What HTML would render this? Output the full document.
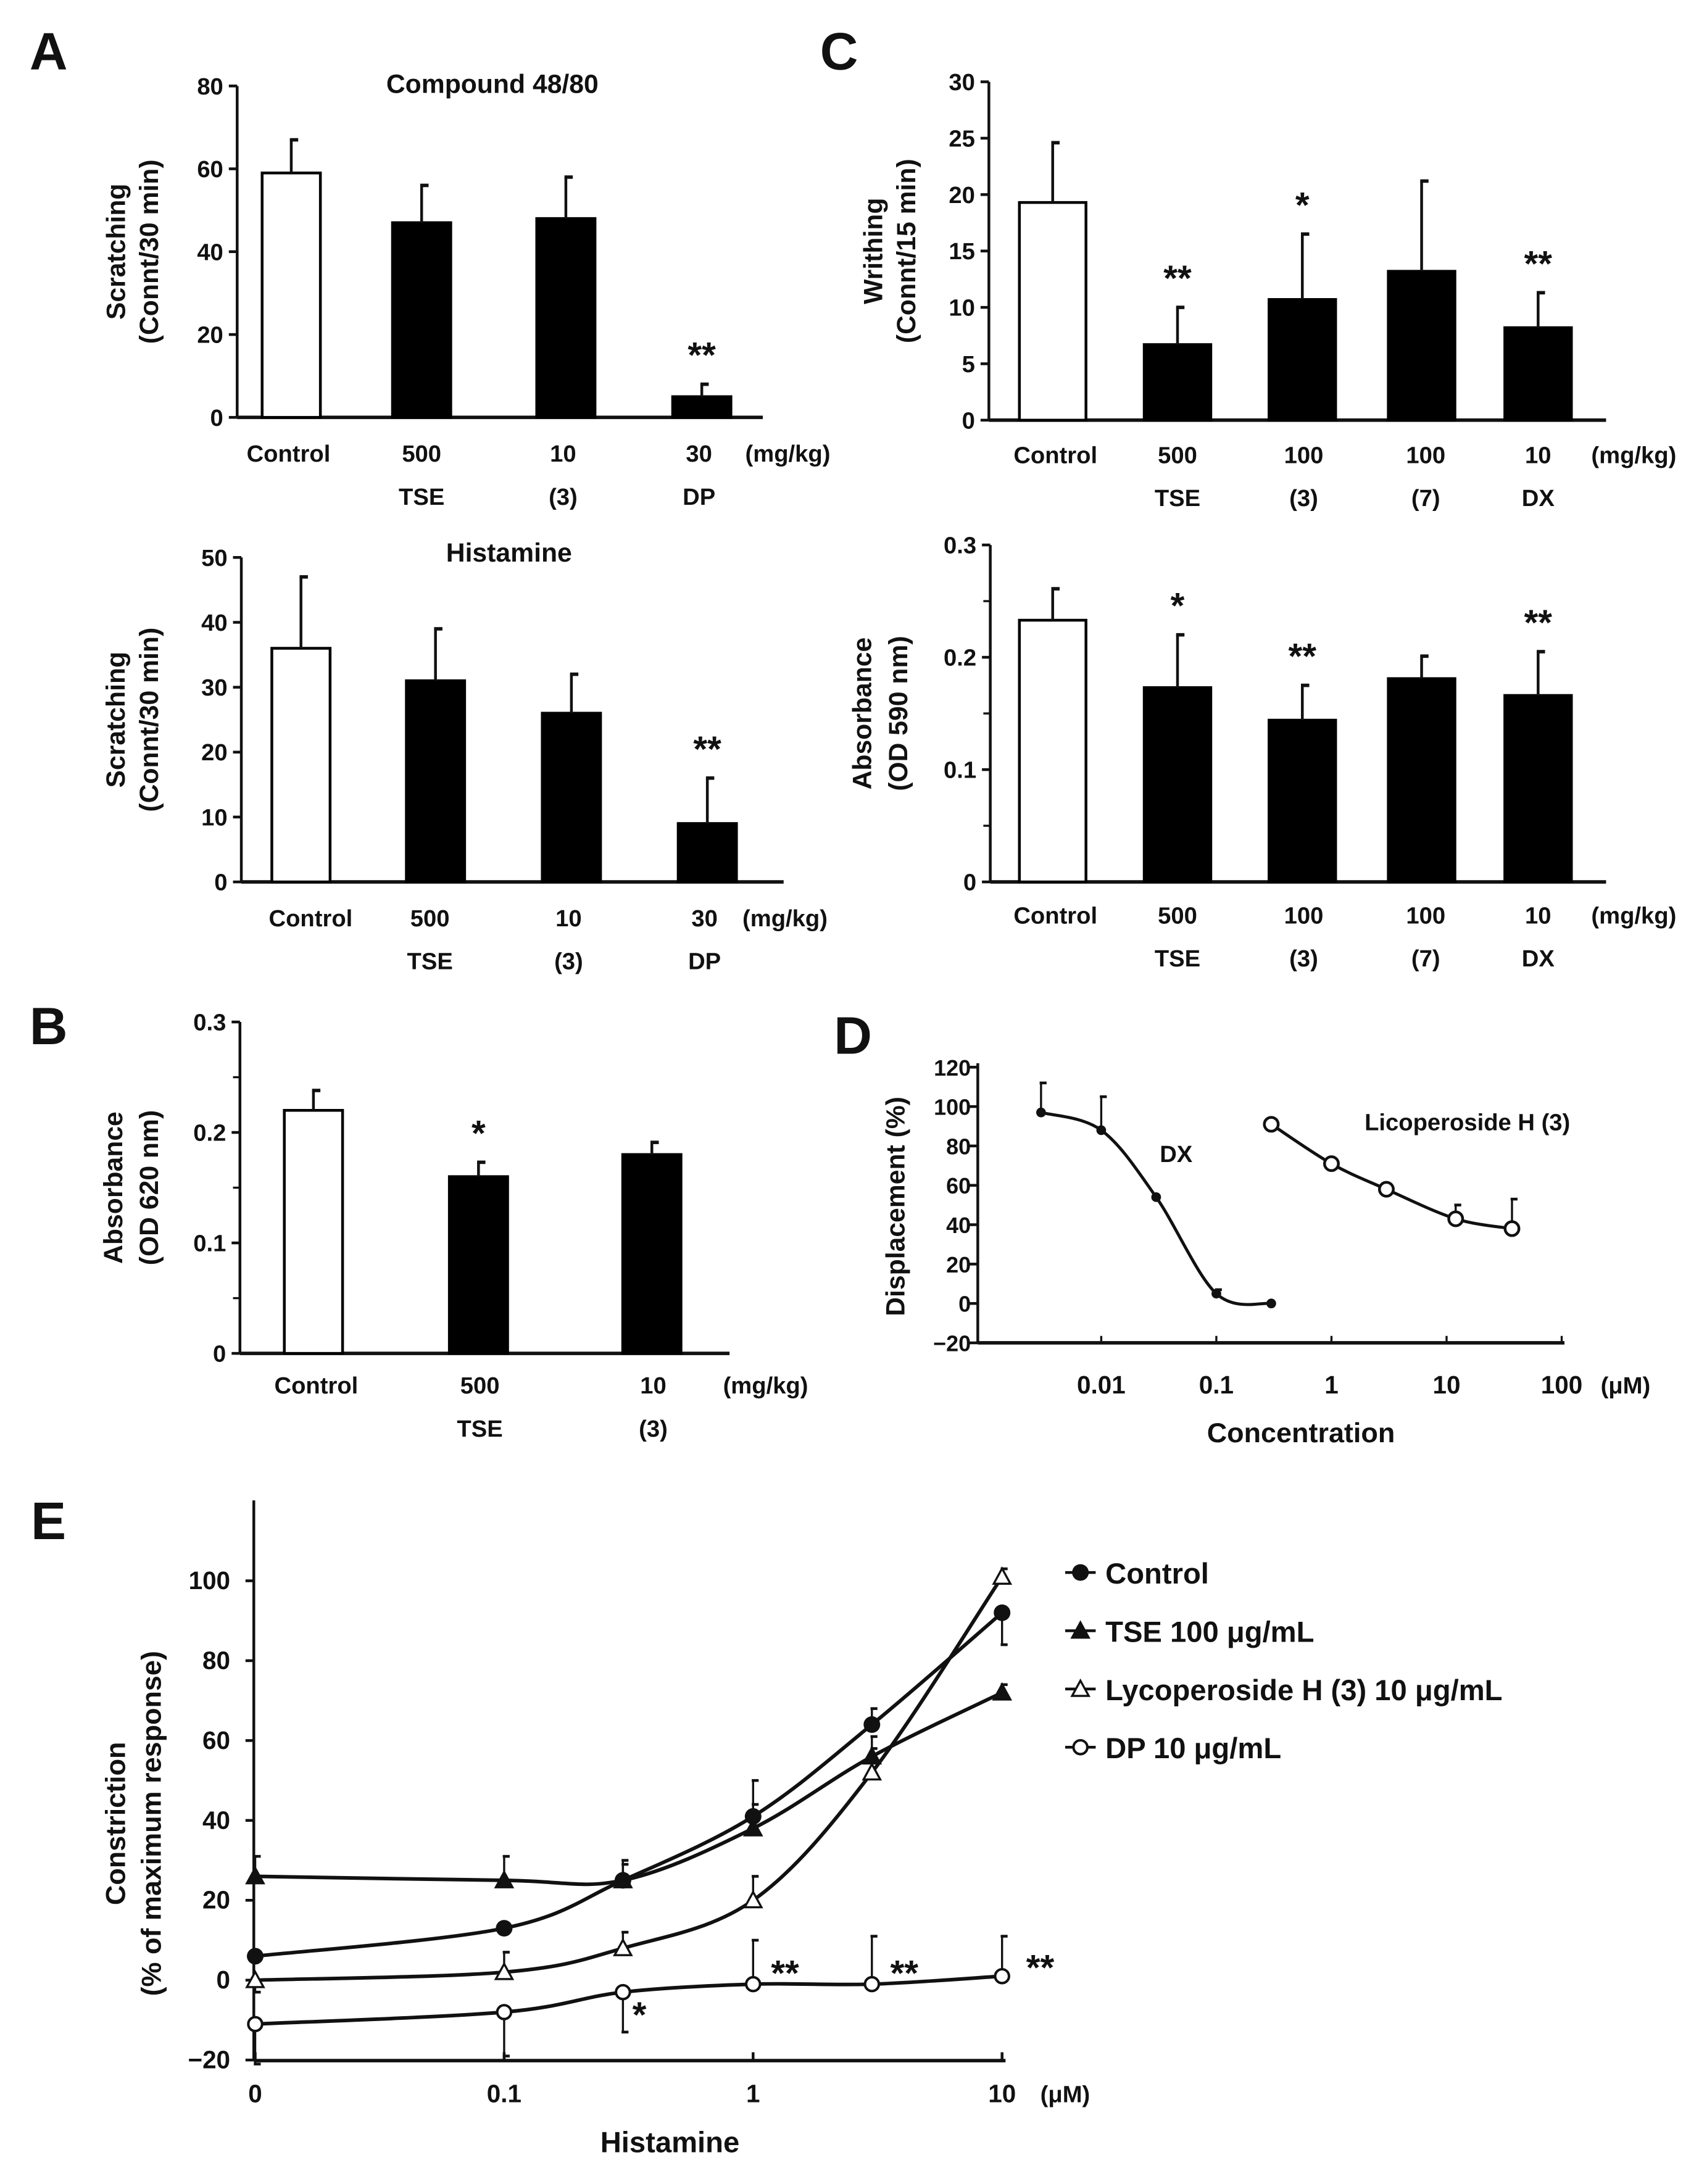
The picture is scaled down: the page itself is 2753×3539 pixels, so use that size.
<!DOCTYPE html>
<html><head><meta charset="utf-8"><style>
html,body{margin:0;padding:0;background:#fff}
svg{display:block}
text{font-family:"Liberation Sans",Arial,sans-serif;font-weight:bold;fill:#111}
</style></head><body>
<svg id="fig" width="2753" height="3539" viewBox="0 0 1225 1575" preserveAspectRatio="none" xmlns="http://www.w3.org/2000/svg"></svg>
<script>
// ---------- data ----------
const aTopCats=["Control","500","10","30"], aTopSub=["","TSE","(3)","DP"];
const aTopVals=[59,47,48,5], aTopErr=[8,9,10,3];
const aTopTicks=[0,20,40,60,80];
const aBotVals=[36,31,26,9], aBotErr=[11,8,6,7];
const aBotTicks=[0,10,20,30,40,50];
const bCats=["Control","500","10"], bSub=["","TSE","(3)"];
const bVals=[0.22,0.16,0.18], bErr=[0.018,0.013,0.011];
const absTicks=[0,0.1,0.2,0.3];
const absMinor=[0.05,0.15,0.25];
const cCats=["Control","500","100","100","10"], cSub=["","TSE","(3)","(7)","DX"];
const cTopVals=[19.3,6.7,10.7,13.2,8.2], cTopErr=[5.3,3.3,5.8,8,3.1];
const cTopTicks=[0,5,10,15,20,25,30];
const cBotVals=[0.233,0.173,0.144,0.181,0.166], cBotErr=[0.028,0.047,0.031,0.02,0.039];
const dDxX=[0.003,0.01,0.03,0.1,0.3], dDxY=[97,88,54,5,0], dDxE=[15,17,0,2,0];
const dLiX=[0.3,1,3,12,37], dLiY=[91,71,58,43,38], dLiE=[0,0,0,7,15];
const dTicks=[-20,0,20,40,60,80,100,120];
const eX=[0,0.1,0.3,1,3,10];
const eCtrl=[6,13,25,41,64,92], eCtrlE=[0,0,5,9,4,-8];
const eTse=[26,25,25,38,56,72], eTseE=[5,6,4,6,5,2];
const eLyc=[0,2,8,20,52,101], eLycE=[-3,5,4,6,6,2];
const eDp=[-11,-8,-3,-1,-1,1], eDpE=[-10,-11,-10,11,12,10];
const eTicks=[-20,0,20,40,60,80,100];

const S=document.getElementById('fig');
const NS="http://www.w3.org/2000/svg";
function el(tag,attrs,parent){const e=document.createElementNS(NS,tag);for(const k in attrs)e.setAttribute(k,attrs[k]);(parent||S).appendChild(e);return e;}
function txt(x,y,s,size,anchor,rot,parent){const t=el('text',{x:x,y:y,'font-size':size,'text-anchor':anchor||'middle'},parent);if(rot)t.setAttribute('transform','rotate(-90 '+x+' '+y+')');t.textContent=s;return t;}
function line(x1,y1,x2,y2,w,parent){return el('line',{x1:x1,y1:y1,x2:x2,y2:y2,stroke:'#111','stroke-width':w||2},parent);}

function barPanel(name,o){
  const g=el('g',{});
  
  
  const y=v=>o.y0-(v-o.min)/(o.max-o.min)*(o.y0-o.y1);
  line(o.ax,o.y1,o.ax,o.y0,2,g);
  line(o.ax,o.y0,o.xEnd,o.y0,2.5,g);
  o.ticks.forEach(t=>{line(o.ax-6,y(t),o.ax,y(t),2,g);txt(o.ax-10,y(t)+6,o.fmt?o.fmt(t):t,17,'end',0,g);});
  (o.minor||[]).forEach(t=>line(o.ax-5,y(t),o.ax,y(t),1.5,g));
  o.vals.forEach((v,i)=>{
    const cx=o.cx[i];
    const b=el('rect',{x:cx-o.w/2,y:y(v),width:o.w,height:o.y0-y(v),fill:i==0?'#fff':'#000',stroke:'#000','stroke-width':2},g);
    
    
    line(cx,y(v),cx,y(v+o.err[i]),2,g);
    line(cx-1,y(v+o.err[i]),cx+5,y(v+o.err[i]),2.5,g);
    txt(o.lx[i],o.ly,o.cats[i],17,'middle',0,g);
    if(o.sub[i])txt(o.lx[i],o.ly+31,o.sub[i],17,'middle',0,g);
    if(o.stars&&o.stars[i])txt(cx,y(v+o.err[i])-12,o.stars[i],26,'middle',0,g);
  });
  txt(o.unitX,o.ly,'(mg/kg)',17,'middle',0,g);
  if(o.title)txt(o.titleX,o.titleY,o.title,19,'middle',0,g);
  o.ylab.forEach((s,k)=>txt(o.ylx[k],(o.y0+o.y1)/2,s,19,'middle',1,g));
}
// Panel letters
[['A',35,30],['C',605,30],['B',35,733],['D',615,740],['E',35,1090]].forEach(p=>{const t=txt(p[1],p[2]+20,p[0],38,'middle');});

barPanel('panel-a-compound',{ax:171,y0:301,y1:62,min:0,max:80,xEnd:550,ticks:aTopTicks,vals:aTopVals,err:aTopErr,cx:[210,304,408,506],w:42,lx:[208,304,406,504],ly:333,cats:aTopCats,sub:aTopSub,stars:['','','','**'],unitX:568,title:'Compound 48/80',titleX:355,titleY:67,ylab:['Scratching','(Connt/30 min)'],ylx:[90,114]});
barPanel('panel-a-histamine',{ax:174,y0:636,y1:402,min:0,max:50,xEnd:565,ticks:aBotTicks,vals:aBotVals,err:aBotErr,cx:[217,314,412,510],w:42,lx:[224,310,410,508],ly:668,cats:aTopCats,sub:aTopSub,stars:['','','','**'],unitX:566,title:'Histamine',titleX:367,titleY:405,ylab:['Scratching','(Connt/30 min)'],ylx:[90,114]});
barPanel('panel-b',{ax:173,y0:976,y1:737,min:0,max:0.3,xEnd:526,ticks:absTicks,minor:absMinor,fmt:t=>t===0?'0':t.toFixed(1),vals:bVals,err:bErr,cx:[226,345,470],w:42,lx:[228,346,471],ly:1005,cats:bCats,sub:bSub,stars:['','*',''],unitX:552,ylab:['Absorbance','(OD 620 nm)'],ylx:[88,114]});
barPanel('panel-c-writhing',{ax:713,y0:303,y1:59,min:0,max:30,xEnd:1158,ticks:cTopTicks,vals:cTopVals,err:cTopErr,cx:[759,849,939,1025,1109],w:48,lx:[761,849,940,1028,1109],ly:334,cats:cCats,sub:cSub,stars:['','**','*','','**'],unitX:1178,ylab:['Writhing','(Connt/15 min)'],ylx:[636,660]});
barPanel('panel-c-absorbance',{ax:714,y0:636,y1:393,min:0,max:0.3,xEnd:1158,ticks:absTicks,minor:absMinor,fmt:t=>t===0?'0':t.toFixed(1),vals:cBotVals,err:cBotErr,cx:[759,849,939,1025,1109],w:48,lx:[761,849,940,1028,1109],ly:666,cats:cCats,sub:cSub,stars:['','*','**','','**'],unitX:1178,ylab:['Absorbance','(OD 590 nm)'],ylx:[628,654]});

function smoothPath(pts){
  let d='M'+pts[0][0]+','+pts[0][1];
  for(let i=0;i<pts.length-1;i++){
    const p0=pts[i-1]||pts[i],p1=pts[i],p2=pts[i+1],p3=pts[i+2]||p2;
    const c1=[p1[0]+(p2[0]-p0[0])/6,p1[1]+(p2[1]-p0[1])/6],c2=[p2[0]-(p3[0]-p1[0])/6,p2[1]-(p3[1]-p1[1])/6];
    d+=' C'+c1+' '+c2+' '+p2;
  }
  return d;
}
// Panel D
(function(){
  const g=el('g',{});
  
  
  const y=v=>940-v*1.42;
  const x=v=>960+83*Math.log10(v);
  line(705,y(122),705,y(-20),2,g);
  line(705,y(-20),1128,y(-20),2.5,g);
  dTicks.forEach(t=>{line(699,y(t),705,y(t),2,g);txt(700,y(t)+6,t<0?'−20':t,16,'end',0,g);});
  [[0.01,'0.01'],[0.1,'0.1'],[1,'1'],[10,'10'],[100,'100']].forEach(t=>{line(x(t[0]),y(-20),x(t[0]),y(-20)-5,1.5,g);txt(x(t[0]),1005,t[1],18,'middle',0,g);});
  txt(1172,1005,'(μM)',17,'middle',0,g);
  txt(938,1040,'Concentration',20,'middle',0,g);
  txt(652,870,'Displacement (%)',19,'middle',1,g);
  el('path',{d:smoothPath(dDxX.map((v,i)=>[x(v),y(dDxY[i])])),fill:'none',stroke:'#111','stroke-width':2.2},g);
  el('path',{d:smoothPath(dLiX.map((v,i)=>[x(v),y(dLiY[i])])),fill:'none',stroke:'#111','stroke-width':2.2},g);
  dDxX.forEach((v,i)=>{if(dDxE[i]){line(x(v),y(dDxY[i]),x(v),y(dDxY[i]+dDxE[i]),1.5,g);line(x(v)-1,y(dDxY[i]+dDxE[i]),x(v)+4,y(dDxY[i]+dDxE[i]),2,g);}
    const c=el('circle',{cx:x(v),cy:y(dDxY[i]),r:3.5,fill:'#111'},g);});
  dLiX.forEach((v,i)=>{if(dLiE[i]){line(x(v),y(dLiY[i]),x(v),y(dLiY[i]+dLiE[i]),1.5,g);line(x(v)-1,y(dLiY[i]+dLiE[i]),x(v)+4,y(dLiY[i]+dLiE[i]),2,g);}
    const c=el('circle',{cx:x(v),cy:y(dLiY[i]),r:5,fill:'#fff',stroke:'#111','stroke-width':2},g);});
  txt(848,838,'DX',17,'middle',0,g);
  txt(1058,815,'Licoperoside H (3)',17,'middle',0,g);
})();
// Panel E
(function(){
  const g=el('g',{});
  
  
  const y=v=>1428-v*2.88;
  const x=v=>543+179.5*Math.log10(v===0?0.01:v);
  line(183,1082,183,1486,2,g);
  line(183,1486,725,1486,2.5,g);
  eTicks.forEach(t=>{line(177,y(t),183,y(t),2,g);txt(166,y(t)+6,t<0?'−20':t,18,'end',0,g);});
  [[0,'0'],[0.1,'0.1'],[1,'1'],[10,'10']].forEach(t=>{line(x(t[0]),1486,x(t[0]),1480,2,g);txt(x(t[0]),1516,t[1],18,'middle',0,g);});
  txt(768,1516,'(μM)',17,'middle',0,g);
  txt(483,1552,'Histamine',21,'middle',0,g);
  txt(90,1315,'Constriction',20,'middle',1,g);
  txt(116,1315,'(% of maximum response)',20,'middle',1,g);
  const series=[['control',eCtrl,eCtrlE,'dot'],['tse',eTse,eTseE,'tri'],['lycoperoside',eLyc,eLycE,'otri'],['dp',eDp,eDpE,'ocirc']];
  function marker(type,cx,cy,pg){
    let m;
    if(type==='dot')m=el('circle',{cx:cx,cy:cy,r:6,fill:'#111'},pg);
    else if(type==='ocirc')m=el('circle',{cx:cx,cy:cy,r:5,fill:'#fff',stroke:'#111','stroke-width':1.8},pg);
    else m=el('polygon',{points:(cx)+','+(cy-6)+' '+(cx-6)+','+(cy+5)+' '+(cx+6)+','+(cy+5),fill:type==='tri'?'#111':'#fff',stroke:'#111','stroke-width':1.5},pg);
    return m;
  }
  series.forEach(s=>{
    const pts=eX.map((v,i)=>[x(v),y(s[1][i])]);
    el('path',{d:smoothPath(pts),fill:'none',stroke:'#111','stroke-width':2.6},g);
    eX.forEach((v,i)=>{const e=s[2][i];if(e){const ye=y(s[1][i]+e);line(pts[i][0],pts[i][1],pts[i][0],ye,1.5,g);line(pts[i][0]-1,ye,pts[i][0]+4,ye,2,g);}
      const m=marker(s[3],pts[i][0],pts[i][1],g);
      
      });
  });
  txt(461,1462,'*',26,'middle',0,g);
  txt(566,1432,'**',26,'middle',0,g);
  txt(652,1432,'**',26,'middle',0,g);
  txt(750,1428,'**',26,'middle',0,g);
  const leg=[['Control','dot'],['TSE  100 μg/mL','tri'],['Lycoperoside H (3)  10 μg/mL','otri'],['DP  10 μg/mL','ocirc']];
  leg.forEach((l,i)=>{
    const lg=el('g',{},g);
    
    
    const yy=1134+i*42;
    line(768,yy,790,yy,2,lg);
    marker(l[1],779,yy,lg);
    txt(797,yy+8,l[0],21,'start',0,lg);
  });
})();
</script>
</body></html>
